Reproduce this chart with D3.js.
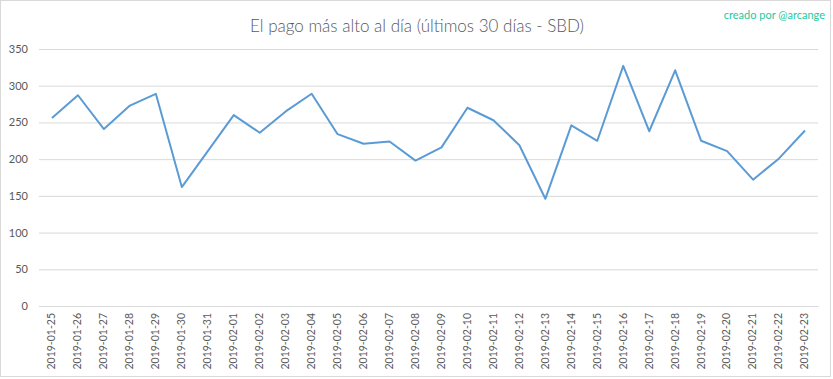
<!DOCTYPE html>
<html><head><meta charset="utf-8">
<script src="https://cdn.jsdelivr.net/npm/d3@7"></script>
<style>body{margin:0;background:#fff}svg{display:block}</style>
</head><body>
<svg id="c" width="833" height="379"></svg>
<script>
const dates = ["2019-01-25","2019-01-26","2019-01-27","2019-01-28","2019-01-29","2019-01-30","2019-01-31","2019-02-01","2019-02-02","2019-02-03","2019-02-04","2019-02-05","2019-02-06","2019-02-07","2019-02-08","2019-02-09","2019-02-10","2019-02-11","2019-02-12","2019-02-13","2019-02-14","2019-02-15","2019-02-16","2019-02-17","2019-02-18","2019-02-19","2019-02-20","2019-02-21","2019-02-22","2019-02-23"];
const values = [256,287,241,273,289,162,211,260,236,265,289,234,221,224,198,216,270,253,219,146,246,225,327,238,321,225,211,172,201,239];
const yTicks = [0,50,100,150,200,250,300,350];
const title = "El pago más alto al día (últimos 30 días - SBD)";
const credit = "creado por @arcange";

const svg = d3.select("#c");
const font = "Lato, 'Open Sans', sans-serif";
const m = {l:39, r:15, t:49, b:73};
const W = 833, H = 379;

svg.append("rect").attr("x",0.5).attr("y",0.5).attr("width",830).attr("height",376)
  .attr("fill","#fff").attr("stroke","#d9d9d9");

const x = d3.scaleBand().domain(dates).range([m.l, W - m.r]);
const y = d3.scaleLinear().domain([0,350]).range([H - m.b, m.t]);

const yAxis = svg.append("g").attr("transform",`translate(${m.l},0)`)
  .call(d3.axisLeft(y).tickValues(yTicks).tickSize(-(W - m.r - m.l)).tickPadding(11));
yAxis.select(".domain").remove();
yAxis.selectAll("line").attr("stroke","#d9d9d9");
yAxis.selectAll("text").attr("fill","#595959").style("font-family",font).style("font-size","11px");

const xAxis = svg.append("g").attr("transform",`translate(0,${y(0)})`)
  .call(d3.axisBottom(x).tickSize(0).tickPadding(6));
xAxis.select(".domain").attr("stroke","#d9d9d9");
xAxis.selectAll("text").attr("fill","#595959").style("font-family",font).style("font-size","10.5px")
  .attr("transform","rotate(-90)").attr("text-anchor","end").attr("dx","-7").attr("dy","0.32em").attr("y",0).attr("x",0);

const line = d3.line().x((d,i)=>x(dates[i]) + x.bandwidth()/2).y(d=>y(d));
svg.append("path").datum(values).attr("d",line).attr("fill","none")
  .attr("stroke","#5b9bd5").attr("stroke-width",2).attr("stroke-linejoin","round");

svg.append("text").attr("x",417).attr("y",32).attr("text-anchor","middle")
  .attr("fill","#595959").style("font-family",font).style("font-weight","300").style("font-size","17px").text(title);
svg.append("text").attr("x",825).attr("y",19).attr("text-anchor","end")
  .attr("fill","#1fc8a0").style("font-family",font).style("font-size","11px").text(credit);
</script>
</body></html>
